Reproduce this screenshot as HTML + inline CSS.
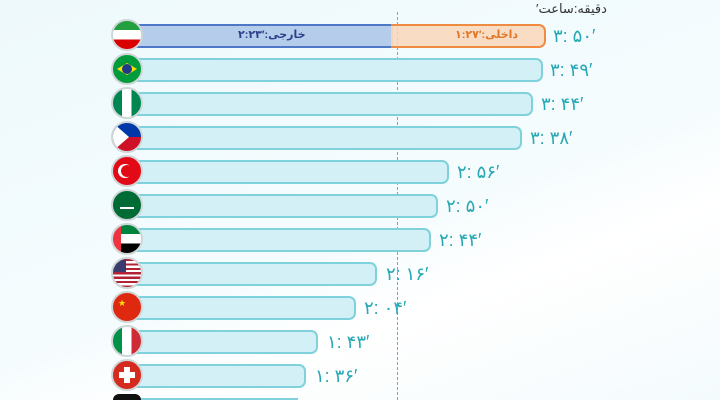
<!DOCTYPE html>
<html><head><meta charset="utf-8"><style>
html,body{margin:0;width:720px;height:400px;overflow:hidden}
body{background:linear-gradient(160deg,#eef9fc 0%,#f5fcfe 55%,#ffffff 70%,#f4fbfd 100%);font-family:"Liberation Sans","DejaVu Sans",sans-serif;position:relative}
.bar{position:absolute;left:128px;height:20px;border:2px solid #7fd2dc;border-left:none;border-radius:0 7px 7px 0;background:#d3f0f6}
.flag{position:absolute;left:111px;width:28px;height:28px;border-radius:50%;border:2px solid #cfd6d8;overflow:hidden;box-sizing:content-box}
.lab{position:absolute;font-size:18px;color:#27a8b4;white-space:nowrap;direction:ltr}
</style></head><body>
<div style="position:absolute;left:536px;top:1px;font-size:13px;color:#333">′دقیقه:ساعت</div>
<div style="position:absolute;left:397px;top:12px;height:388px;border-left:1.5px dashed #e8834a"></div>

<div style="position:absolute;left:128px;top:24px;width:263px;height:20px;border:2px solid #4d78c6;border-right:none;background:rgba(170,196,232,.85)"></div>
<div style="position:absolute;left:391px;top:24px;width:153px;height:20px;border:2px solid #ef8c43;border-left:none;border-radius:0 7px 7px 0;background:rgba(250,214,186,.85)"></div>
<div style="position:absolute;left:238px;top:28px;font-size:11px;color:#2c3f8a;font-weight:bold">خارجی:′۲:۲۳</div>
<div style="position:absolute;left:455px;top:28px;font-size:11px;color:#e27628;font-weight:bold">داخلی:′۱:۲۷</div>

<div class="bar" style="top:58px;width:413px"></div>
<div class="bar" style="top:92px;width:403px"></div>
<div class="bar" style="top:126px;width:392px"></div>
<div class="bar" style="top:160px;width:319px"></div>
<div class="bar" style="top:194px;width:308px"></div>
<div class="bar" style="top:228px;width:301px"></div>
<div class="bar" style="top:262px;width:247px"></div>
<div class="bar" style="top:296px;width:226px"></div>
<div class="bar" style="top:330px;width:188px"></div>
<div class="bar" style="top:364px;width:176px"></div>
<div style="position:absolute;left:128px;top:398px;width:170px;height:2px;background:#7fd2dc"></div>

<div class="flag" style="top:19px;background:linear-gradient(#239f40 0 33%,#fff 33% 66%,#da0000 66%)"></div>
<div class="flag" style="top:53px;background:#009c3b"><div style="position:absolute;left:4px;top:8px;width:20px;height:12px;background:#ffdf00;clip-path:polygon(50% 0,100% 50%,50% 100%,0 50%)"></div><div style="position:absolute;left:9px;top:9px;width:10px;height:10px;border-radius:50%;background:#1e3a8a"></div></div>
<div class="flag" style="top:87px;background:linear-gradient(90deg,#008751 0 33%,#fff 33% 66%,#008751 66%)"></div>
<div class="flag" style="top:121px;background:linear-gradient(#0038a8 0 50%,#ce1126 50%)"><div style="position:absolute;left:0;top:0;width:16px;height:28px;background:#fff;clip-path:polygon(0 0,100% 50%,0 100%)"></div></div>
<div class="flag" style="top:155px;background:#e30a17"><div style="position:absolute;left:5px;top:7px;width:14px;height:14px;border-radius:50%;background:#fff"></div><div style="position:absolute;left:8px;top:8px;width:12px;height:12px;border-radius:50%;background:#e30a17"></div></div>
<div class="flag" style="top:189px;background:#006c35"><div style="position:absolute;left:7px;top:16px;width:14px;height:2px;background:#fff"></div></div>
<div class="flag" style="top:223px;background:linear-gradient(90deg,#ef3340 0 28%,transparent 28%),linear-gradient(#00843d 0 33%,#fff 33% 66%,#000 66%)"></div>
<div class="flag" style="top:257px;background:repeating-linear-gradient(#b22234 0 2.2px,#fff 2.2px 4.4px)"><div style="position:absolute;left:0;top:0;width:13px;height:13px;background:#3c3b6e"></div></div>
<div class="flag" style="top:291px;background:#de2910"><div style="position:absolute;left:5px;top:5px;color:#ffde00;font-size:9px">★</div></div>
<div class="flag" style="top:325px;background:linear-gradient(90deg,#009246 0 33%,#fff 33% 66%,#ce2b37 66%)"></div>
<div class="flag" style="top:359px;background:#d52b1e"><div style="position:absolute;left:11px;top:6px;width:6px;height:16px;background:#fff"></div><div style="position:absolute;left:6px;top:11px;width:16px;height:6px;background:#fff"></div></div>
<div style="position:absolute;left:113px;top:394px;width:28px;height:6px;border-radius:14px 14px 0 0;background:#111"></div>

<div class="lab" style="left:553px;top:26px">۳: ۵۰′</div>
<div class="lab" style="left:550px;top:60px">۳: ۴۹′</div>
<div class="lab" style="left:541px;top:94px">۳: ۴۴′</div>
<div class="lab" style="left:530px;top:128px">۳: ۳۸′</div>
<div class="lab" style="left:457px;top:162px">۲: ۵۶′</div>
<div class="lab" style="left:446px;top:196px">۲: ۵۰′</div>
<div class="lab" style="left:439px;top:230px">۲: ۴۴′</div>
<div class="lab" style="left:386px;top:264px">۲: ۱۶′</div>
<div class="lab" style="left:364px;top:298px">۲: ۰۴′</div>
<div class="lab" style="left:327px;top:332px">۱: ۴۳′</div>
<div class="lab" style="left:315px;top:366px">۱: ۳۶′</div>
</body></html>
